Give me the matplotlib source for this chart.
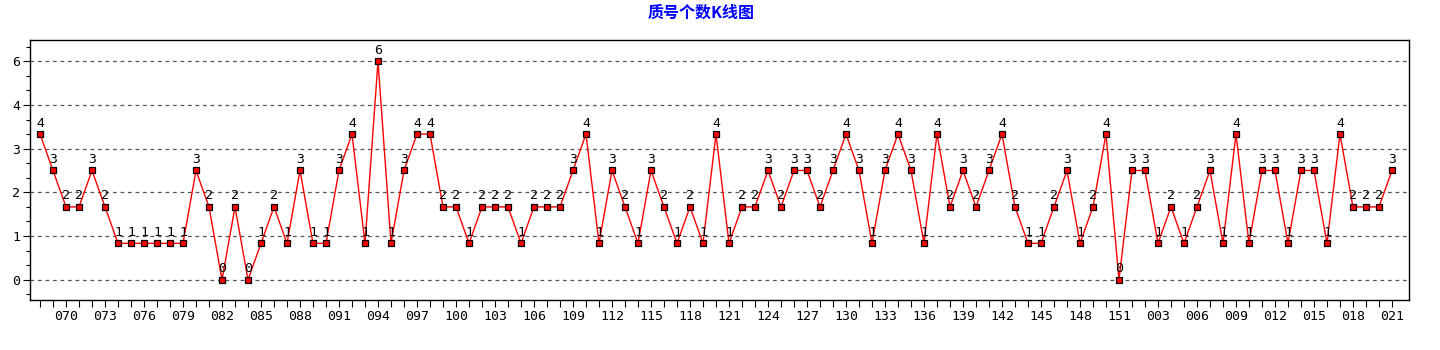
import matplotlib
matplotlib.use("Agg")
import matplotlib.pyplot as plt
from matplotlib.ticker import FixedLocator, MultipleLocator
import numpy as np

# period numbers (068..151, then 001..021)
periods = [f"{n:03d}" for n in range(68, 152)] + [f"{n:03d}" for n in range(1, 22)]

# count of prime numbers per period
counts = [
    4, 3, 2, 2, 3, 2, 1, 1, 1, 1, 1, 1,
    3, 2, 0, 2, 0, 1, 2, 1, 3, 1, 1, 3,
    4, 1, 6, 1, 3, 4, 4, 2, 2, 1, 2, 2,
    2, 1, 2, 2, 2, 3, 4, 1, 3, 2, 1, 3,
    2, 1, 2, 1, 4, 1, 2, 2, 3, 2, 3, 3,
    2, 3, 4, 3, 1, 3, 4, 3, 1, 4, 2, 3,
    2, 3, 4, 2, 1, 1, 2, 3, 1, 2, 4, 0,
    3, 3, 1, 2, 1, 2, 3, 1, 4, 1, 3, 3,
    1, 3, 3, 1, 4, 2, 2, 2, 3,
]

ytick_labels = ["0", "1", "2", "3", "4", "6"]

mono = "DejaVu Sans Mono"

fig = plt.figure(figsize=(14.4, 3.5), dpi=100)
ax = fig.add_axes([30 / 1440, 50 / 350, 1379 / 1440, 260 / 350])

x = np.arange(len(counts))
ax.plot(x, counts, color="red", linewidth=1, marker="s", markersize=4,
        markerfacecolor="red", markeredgecolor="black", markeredgewidth=0.9, zorder=3)

for xi, v in zip(x, counts):
    ax.annotate(str(v), (xi, v), xytext=(0, 11), textcoords="offset pixels",
                ha="center", va="center", fontsize=9.5, family=mono, color="black")

ax.set_xlim(-0.77, len(counts) - 1 + 1.31)
ax.set_ylim(-0.556, 6.583)

# y labels sit on an even grid that does not match the data scale
ytick_pos = np.linspace(0, max(counts), len(ytick_labels))
ax.yaxis.set_major_locator(FixedLocator(ytick_pos))
ax.set_yticklabels(ytick_labels)
ax.yaxis.set_minor_locator(MultipleLocator(0.4))
ax.grid(axis="y", which="major", linestyle=(0, (3, 3)), color="#555555", linewidth=0.9)

major_idx = list(range(2, len(periods), 3))
ax.xaxis.set_major_locator(FixedLocator(major_idx))
ax.set_xticklabels([periods[i] for i in major_idx])
ax.xaxis.set_minor_locator(FixedLocator(list(x)))

ax.tick_params(axis="both", which="major", length=5, width=0.8, labelsize=9.5, pad=2)
ax.tick_params(axis="y", which="minor", length=3, width=0.8)
ax.tick_params(axis="x", which="minor", length=5, width=0.8)
for lab in ax.get_xticklabels() + ax.get_yticklabels():
    lab.set_family(mono)

for sp in ax.spines.values():
    sp.set_linewidth(1)
    sp.set_color("black")

fig.text(701 / 1440, 1 - 13 / 350, "质号个数K线图", ha="center", va="center",
         fontsize=11.5, fontweight="bold", color="#0000ff",
         family=["Noto Sans CJK SC", "DejaVu Sans"])

fig.savefig("out.png", dpi=100)
